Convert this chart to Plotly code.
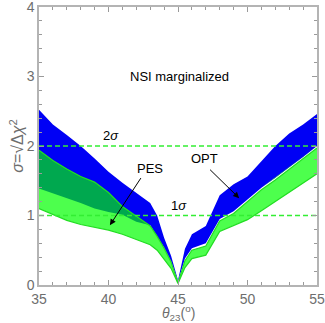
import numpy as np
import plotly.graph_objects as go

# ── data ──────────────────────────────────────────────────────────────────
theta = [35, 36, 37, 38, 39, 40, 41, 42, 43, 43.5, 44, 44.5, 45,
         45.5, 46, 47, 48, 49, 50, 51, 52, 53, 54, 55]

opt_upper = [2.52, 2.31, 2.16, 2.00, 1.82, 1.63, 1.47, 1.33, 1.18, 1.00, 0.68, 0.42, 0.07,
             0.52, 0.73, 0.85, 1.29, 1.45, 1.56, 1.78, 2.00, 2.18, 2.31, 2.46]
opt_lower = [1.39, 1.33, 1.25, 1.18, 1.10, 1.05, 1.01, 0.91, 0.86, 0.71, 0.54, 0.34, 0.05,
             0.38, 0.53, 0.60, 0.95, 1.06, 1.23, 1.40, 1.54, 1.69, 1.84, 2.00]

pes_upper = [1.94, 1.79, 1.67, 1.56, 1.48, 1.33, 1.13, 0.99, 0.85, 0.70, 0.53, 0.33, 0.03,
             0.35, 0.50, 0.56, 0.92, 1.03, 1.20, 1.37, 1.51, 1.66, 1.81, 1.97]
pes_lower = [1.10, 1.01, 0.93, 0.87, 0.83, 0.79, 0.73, 0.66, 0.58, 0.50, 0.37, 0.24, 0.02,
             0.25, 0.38, 0.43, 0.77, 0.86, 0.94, 1.07, 1.20, 1.33, 1.46, 1.60]

sigma_levels = [1, 2]
sigma_labels = ["1<i>σ</i>", "2<i>σ</i>"]

# ── colours ───────────────────────────────────────────────────────────────
BLUE = "#0000f5"
LIGHT_GREEN = "#4dff4d"
DARK_GREEN = "#00a84f"
EDGE_GREEN = "#22dd22"
DASH_GREEN = "#33ee33"
GRAY = "#6e6e6e"
FONT = "Liberation Sans, Arial, sans-serif"


def band(x, lo, hi, color, line_color=None):
    """Closed polygon between two curves."""
    xs = list(x) + list(x)[::-1]
    ys = list(hi) + list(lo)[::-1]
    return go.Scatter(x=xs, y=ys, fill="toself", fillcolor=color, mode="lines",
                      line=dict(width=0 if line_color is None else 1,
                                color=line_color or color),
                      hoverinfo="skip", showlegend=False)


fig = go.Figure()
fig.add_trace(band(theta, opt_lower, opt_upper, BLUE))
fig.add_trace(band(theta, pes_lower, pes_upper, LIGHT_GREEN))

# overlap of the two bands
ov_lo = np.maximum(opt_lower, pes_lower)
ov_hi = np.minimum(opt_upper, pes_upper)
ov_hi = np.maximum(ov_hi, ov_lo)
fig.add_trace(band(theta, ov_lo, ov_hi, DARK_GREEN))

# PES edges
for edge in (pes_upper, pes_lower):
    fig.add_trace(go.Scatter(x=theta, y=edge, mode="lines",
                             line=dict(color=EDGE_GREEN, width=1.2),
                             hoverinfo="skip", showlegend=False))

# sigma lines
for lvl in sigma_levels:
    fig.add_trace(go.Scatter(x=[35, 55], y=[lvl, lvl], mode="lines",
                             line=dict(color=DASH_GREEN, width=1.5, dash="5px,3px"),
                             hoverinfo="skip", showlegend=False))

text_font = dict(family=FONT, size=13, color="black")
fig.add_annotation(x=45.1, y=3.0, text="NSI marginalized", showarrow=False, font=text_font)
fig.add_annotation(x=40.2, y=2.15, text=sigma_labels[1], showarrow=False, font=text_font)
fig.add_annotation(x=45.1, y=1.15, text=sigma_labels[0], showarrow=False, font=text_font)
fig.add_annotation(x=43.0, y=1.68, text="PES", showarrow=False, font=text_font)
fig.add_annotation(x=40.1, y=0.86, ax=42.4, ay=1.56, axref="x", ayref="y",
                   text="", showarrow=True, arrowhead=2, arrowsize=1.2,
                   arrowwidth=1, arrowcolor="black")
fig.add_annotation(x=46.9, y=1.82, text="OPT", showarrow=False, font=text_font)
fig.add_annotation(x=49.4, y=1.25, ax=47.2, ay=1.68, axref="x", ayref="y",
                   text="", showarrow=True, arrowhead=2, arrowsize=1.2,
                   arrowwidth=1, arrowcolor="black")

# axis titles placed by hand
fig.add_annotation(x=0.5, y=-0.1, xref="paper", yref="paper", yanchor="middle",
                   text="<i>θ</i><sub>23</sub>(<sup>o</sup>)", showarrow=False,
                   font=dict(family=FONT, size=14, color=GRAY))
fig.add_annotation(x=-0.08, y=0.5, xref="paper", yref="paper", xanchor="center",
                   textangle=-90, text="<i>σ</i>=√Δ<i>χ</i><sup>2</sup>",
                   showarrow=False, font=dict(family=FONT, size=16, color=GRAY))

axis_common = dict(showgrid=False, zeroline=False, ticks="inside", mirror="ticks",
                   showline=True, linecolor="#b4b4b4", linewidth=1.5,
                   tickcolor="#9a9a9a", ticklen=5, automargin=False,
                   ticklabeloverflow="allow",
                   tickfont=dict(family=FONT, size=14, color=GRAY))

fig.update_xaxes(range=[35, 55], tick0=35, dtick=5,
                 minor=dict(dtick=1, ticks="inside", ticklen=3, tickcolor="#9a9a9a"),
                 **axis_common)
fig.update_yaxes(range=[0, 4], tick0=0, dtick=1,
                 minor=dict(dtick=0.2, ticks="inside", ticklen=3, tickcolor="#9a9a9a"),
                 **axis_common)

fig.update_layout(width=325, height=323, margin=dict(l=39, r=8, t=7, b=38),
                  plot_bgcolor="white", paper_bgcolor="white", showlegend=False)

# drop the default body margin so the figure fills the window
fig.write_html("out.html", config={"displayModeBar": False},
               post_script="document.body.style.margin='0';")
